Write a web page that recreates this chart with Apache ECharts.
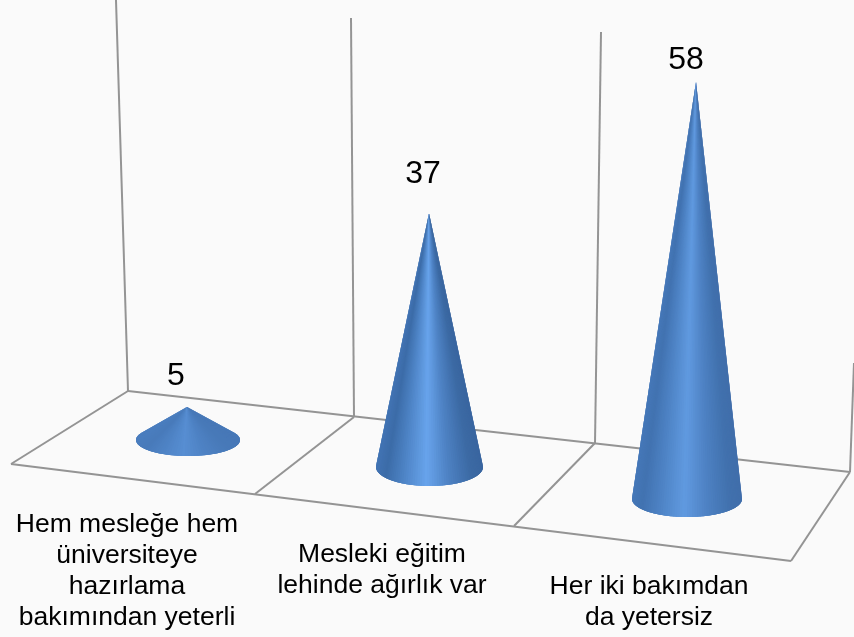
<!DOCTYPE html>
<html><head><meta charset="utf-8">
<style>html,body{margin:0;padding:0;background:#fafafa}#c{width:854px;height:637px}</style>
<script src="https://cdn.jsdelivr.net/npm/echarts@6/dist/echarts.min.js"></script>
</head><body><div id="c"></div>
<script>
const categories = ['Hem mesleğe hem\nüniversiteye\nhazırlama\nbakımından yeterli','Mesleki eğitim\nlehinde ağırlık var','Her iki bakımdan\nda yetersiz'];
const values = [5, 37, 58];
// perspective layout per category (depth scale, base centre, ellipse radii, tip lean, label anchors)
const depthScale = [0.94, 0.98, 1.027];
const baseShiftX = [10, 1.5, 9];
const baseY = [440, 467, 499];
const radiusX = [52, 53.5, 55];
const radiusY = [16, 19, 18];
const tipLean = [-1, -0.5, 9];
const highlight = [0.35, 1, 0.7];
const valueLabelPos = [[176,376],[423,174],[686,60]];
const catLabelPos = [[127,571],[382,570],[649,602]];
const floorLines = [
 [[128,391],[11,464]],[[11,464],[791,561]],[[791,561],[850,472]],[[128,391],[850,472]],
 [[354,417],[255,494]],[[595,443],[514,526]],
 [[116,0],[128,391]],[[351,18],[354,417]],[[601,32],[595,443]],[[854,363],[850,472]]
];
// cone shading: position across the cone (0 left .. 1 right) -> rgb
const shade = [[0,[66,116,180]],[0.12,[60,108,168]],[0.3,[78,132,198]],[0.52,[104,164,236]],[0.72,[78,130,196]],[0.92,[60,106,164]],[1,[58,102,160]]];
const flatShade = [78,130,196];
function shadeAt(t,s){
 let rgb=shade[shade.length-1][1];
 for(let k=1;k<shade.length;k++){
  if(t<=shade[k][0]){
   const a=shade[k-1],b=shade[k],f=(t-a[0])/(b[0]-a[0]);
   rgb=a[1].map((c,j)=>c+(b[1][j]-c)*f);
   break;
  }
 }
 return 'rgb('+rgb.map((c,j)=>Math.round(flatShade[j]+(c-flatShade[j])*s)).join(',')+')';
}
const chart = echarts.init(document.getElementById('c'));
chart.setOption({
 backgroundColor:'#fafafa',
 animation:false,
 grid:{left:53,width:750,top:0,height:560},
 xAxis:{type:'category',data:categories,show:false},
 yAxis:{type:'value',min:0,max:80,show:false},
 graphic:floorLines.map(l=>({type:'line',z:-1,shape:{x1:l[0][0],y1:l[0][1],x2:l[1][0],y2:l[1][1]},style:{stroke:'#949494',lineWidth:2}})),
 series:[{
  type:'custom',
  data:values.map((v,i)=>[i,v]),
  encode:{x:0,y:1},
  renderItem(params,api){
   const i=api.value(0), v=api.value(1);
   const cx=api.coord([i,0])[0]+baseShiftX[i];
   const cy=baseY[i];
   const h=api.size([0,v])[1]*depthScale[i];
   const tip=[cx+tipLean[i],cy-h];
   const rx=radiusX[i], ry=radiusY[i];
   const t0=Math.asin(Math.min(0.9,ry/h));
   const N=70, span=Math.PI+2*t0, children=[];
   const at=a=>[cx+rx*Math.cos(a),cy+ry*Math.sin(a)];
   for(let k=0;k<N;k++){
    const a1=-t0+span*k/N, a2=-t0+span*(k+1)/N;
    // each slice reaches over its neighbour, so the later one paints the seam away
    const pts=[tip];
    const end=Math.min(Math.PI+t0,a2+2*span/N);
    for(let m=0;m<=4;m++) pts.push(at(a1+(end-a1)*m/4));
    const col=shadeAt((1+Math.cos((a1+a2)/2))/2,highlight[i]);
    children.push({type:'polygon',shape:{points:pts},style:{fill:col}});
   }
   children.reverse();
   children.push({type:'text',style:{text:String(v),x:valueLabelPos[i][0],y:valueLabelPos[i][1],align:'center',verticalAlign:'middle',font:'32px "Liberation Sans"',fill:'#000'}});
   children.push({type:'text',style:{text:categories[i],x:catLabelPos[i][0],y:catLabelPos[i][1],align:'center',verticalAlign:'middle',font:'26.5px "Liberation Sans"',lineHeight:31,fill:'#000'}});
   return {type:'group',children};
  }
 }]
});
</script></body></html>
